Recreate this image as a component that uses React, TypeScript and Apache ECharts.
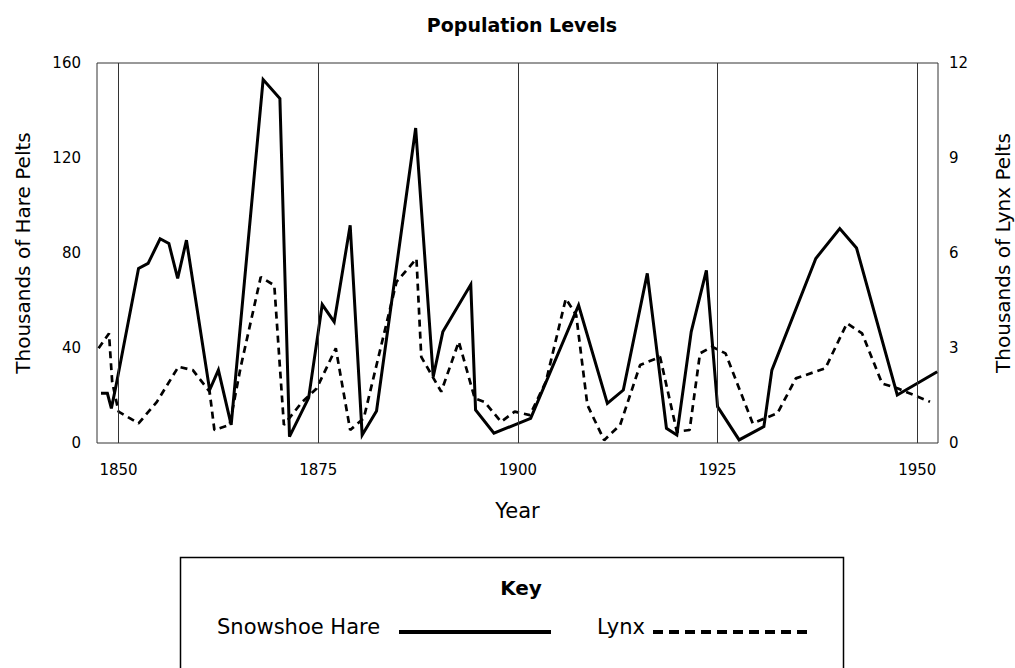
import React, { useEffect, useRef } from "react";
import * as echarts from "echarts";

const xTickLabels = [1850, 1875, 1900, 1925, 1950];
const hareTicks = [0, 40, 80, 120, 160];
const lynxTicks = [0, 3, 6, 9, 12];

const hareYears = [
  1847.8, 1848.6, 1849.1, 1849.7, 1852.5, 1853.7, 1855.2, 1856.3, 1857.4, 1858.5,
  1861.4, 1862.5, 1864.1, 1868.1, 1870.2, 1871.4, 1873.8, 1875.5, 1877, 1879,
  1880.5, 1882.3, 1887.2, 1889.4, 1890.6, 1894.1, 1894.7, 1897, 1901.6, 1907.6,
  1911.2, 1913.2, 1916.2, 1918.6, 1919.9, 1921.7, 1923.6, 1925, 1927.7, 1930.8,
  1931.8, 1937.3, 1940.3, 1942.4, 1947.5, 1952.5,
];
const hareValues = [
  20.9, 20.9, 14.6, 24.4, 73.5, 75.6, 86, 84, 69.3, 85.4,
  22.3, 30.7, 7.6, 153, 145, 2.7, 19, 58.3, 51, 91.7,
  3.4, 13.5, 132.6, 27.9, 46.8, 66.7, 13.9, 4.1, 10.4, 58,
  16.7, 22.3, 71.4, 6.2, 3.4, 46.8, 72.7, 15.3, 1.3, 6.9,
  30.7, 77.7, 90.3, 82.1, 20.2, 30,
];

const lynxYears = [
  1847.5, 1848.8, 1849.2, 1850, 1852.5, 1854.8, 1857.5, 1859.3, 1861.4, 1862,
  1863.9, 1865.3, 1867.8, 1869.5, 1870.7, 1873, 1874.8, 1877.2, 1879, 1880.7,
  1884.8, 1887.3, 1887.9, 1890.4, 1892.6, 1894.6, 1895.8, 1897.9, 1899.6, 1901.5,
  1903.5, 1906, 1907.3, 1908.7, 1910.8, 1912.8, 1915.3, 1917.8, 1919.9, 1921.5,
  1922.8, 1924.3, 1926, 1929.4, 1932.5, 1934.8, 1938.5, 1941.2, 1943.1, 1945.6,
  1947.6, 1951.6,
];
const lynxValues = [
  2.99, 3.46, 1.93, 0.99, 0.62, 1.3, 2.41, 2.3, 1.62, 0.41,
  0.57, 2.41, 5.24, 4.98, 0.57, 1.3, 1.72, 2.99, 0.41, 0.78,
  5.09, 5.82, 2.72, 1.62, 3.2, 1.41, 1.3, 0.67, 0.99, 0.88,
  1.93, 4.56, 4.04, 1.2, 0.09, 0.57, 2.46, 2.72, 0.36, 0.41,
  2.83, 3.04, 2.83, 0.62, 0.94, 2.04, 2.36, 3.78, 3.46, 1.88,
  1.72, 1.3,
];

const FONT = "'DejaVu Sans', sans-serif";
const plain = (v: number) => String(v);

export default function App() {
  const ref = useRef<HTMLDivElement>(null);
  useEffect(() => {
    if (!ref.current) return;
    const chart = echarts.init(ref.current, undefined, { renderer: "svg" });
    const hareData = hareYears.map((y, i) => [y, hareValues[i]]);
    const lynxData = lynxYears.map((y, i) => [y, lynxValues[i]]);
    chart.setOption({
      animation: false,
      backgroundColor: "#fff",
      textStyle: { fontFamily: FONT, color: "#000" },
      title: {
        text: "Population Levels",
        left: 517,
        textAlign: "center",
        top: 10,
        textStyle: { fontFamily: FONT, fontSize: 19, fontWeight: "bold", color: "#000" },
      },
      grid: {
        left: 97,
        right: 77,
        top: 63,
        bottom: 225,
        outerBoundsMode: "none",
        containLabel: false,
        show: true,
        borderColor: "#333",
        borderWidth: 1,
        backgroundColor: "transparent",
      },
      xAxis: {
        type: "value",
        min: 1847.3,
        max: 1952.6,
        name: "Year",
        nameLocation: "middle",
        nameGap: 57,
        nameTextStyle: { fontFamily: FONT, fontSize: 21, color: "#000" },
        axisLine: { show: false },
        axisTick: { show: false },
        splitLine: { show: false },
        axisLabel: {
          customValues: xTickLabels,
          formatter: plain,
          margin: 19,
          fontSize: 15,
          color: "#000",
          fontFamily: FONT,
        },
      },
      yAxis: [
        {
          type: "value",
          min: 0,
          max: 160,
          interval: 40,
          name: "Thousands of Hare Pelts",
          nameLocation: "middle",
          nameRotate: 90,
          nameGap: 64,
          nameTextStyle: { fontFamily: FONT, fontSize: 20, color: "#000" },
          axisLine: { show: false },
          axisTick: { show: false },
          splitLine: { show: false },
          axisLabel: {
            customValues: hareTicks,
            formatter: plain,
            margin: 16,
            fontSize: 15,
            color: "#000",
            fontFamily: FONT,
          },
        },
        {
          type: "value",
          min: 0,
          max: 12,
          interval: 3,
          position: "right",
          name: "Thousands of Lynx Pelts",
          nameLocation: "middle",
          nameRotate: 90,
          nameGap: 55,
          nameTextStyle: { fontFamily: FONT, fontSize: 20, color: "#000" },
          axisLine: { show: false },
          axisTick: { show: false },
          splitLine: { show: false },
          axisLabel: {
            customValues: lynxTicks,
            formatter: plain,
            margin: 11,
            fontSize: 15,
            color: "#000",
            fontFamily: FONT,
          },
        },
      ],
      series: [
        {
          name: "Snowshoe Hare",
          type: "line",
          yAxisIndex: 0,
          data: hareData,
          showSymbol: false,
          symbol: "none",
          lineStyle: { color: "#000", width: 3, type: "solid", join: "miter" },
          z: 3,
          markLine: {
            silent: true,
            symbol: ["none", "none"],
            label: { show: false },
            lineStyle: { color: "#333", width: 1, type: "solid" },
            data: xTickLabels.map((v) => ({ xAxis: v })),
          },
        },
        {
          name: "Lynx",
          type: "line",
          yAxisIndex: 1,
          data: lynxData,
          showSymbol: false,
          symbol: "none",
          lineStyle: { color: "#000", width: 2.7, type: [7, 5] },
          z: 2,
        },
      ],
      graphic: [
        {
          type: "rect",
          shape: { x: 180.5, y: 557.5, width: 663, height: 200 },
          style: { fill: "none", stroke: "#000", lineWidth: 1.5 },
        },
        {
          type: "text",
          x: 521,
          y: 588,
          style: {
            text: "Key",
            fontFamily: FONT,
            fontSize: 20,
            fontWeight: "bold",
            fill: "#000",
            textAlign: "center",
            textVerticalAlign: "middle",
          },
        },
        {
          type: "text",
          x: 217,
          y: 627,
          style: {
            text: "Snowshoe Hare",
            fontFamily: FONT,
            fontSize: 21,
            fill: "#000",
            textAlign: "left",
            textVerticalAlign: "middle",
          },
        },
        {
          type: "line",
          shape: { x1: 399, y1: 632, x2: 551, y2: 632 },
          style: { stroke: "#000", lineWidth: 4 },
        },
        {
          type: "text",
          x: 597,
          y: 627,
          style: {
            text: "Lynx",
            fontFamily: FONT,
            fontSize: 21,
            fill: "#000",
            textAlign: "left",
            textVerticalAlign: "middle",
          },
        },
        {
          type: "line",
          shape: { x1: 653, y1: 632, x2: 808, y2: 632 },
          style: { stroke: "#000", lineWidth: 4, lineDash: [10, 6] },
        },
      ],
    });
    return () => chart.dispose();
  }, []);
  return (
    <div
      ref={ref}
      style={{ position: "absolute", left: 0, top: 0, width: 1015, height: 668 }}
    />
  );
}
